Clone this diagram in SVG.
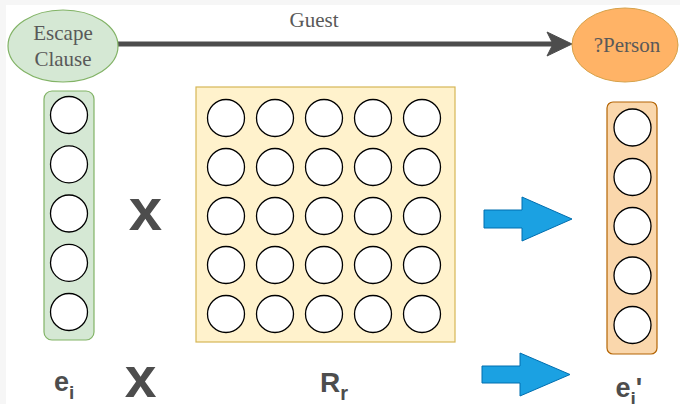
<svg xmlns="http://www.w3.org/2000/svg" width="680" height="404" viewBox="0 0 680 404">
<defs>
<style>
.serif{font-family:"Liberation Serif","Times New Roman",serif;fill:#595959;font-size:21px;text-anchor:middle}
.bold{font-family:"Liberation Sans",Arial,sans-serif;font-weight:bold;fill:#4d4d4d}
.cell{fill:#ffffff;stroke:#000000;stroke-width:1.3}
.blue{fill:#1ba1e2;stroke:#006eaf;stroke-width:1}
</style>
<circle id="c" r="18.5" class="cell"/>
</defs>
<rect x="0" y="0" width="680" height="404" fill="#f6f6f6"/>
<rect x="6" y="5" width="674" height="399" fill="#ffffff"/>

<g id="connectors">
<line x1="118" y1="44" x2="556" y2="44" stroke="#4d4d4d" stroke-width="5"/>
<polygon points="572,44 547,32 553,44 547,56" fill="#4d4d4d" stroke="#4d4d4d" stroke-width="1"/>
<text class="serif" x="314" y="27" font-size="20">Guest</text>
<polygon class="blue" points="484,210 522,210 522,197 572,219 522,241 522,228 484,228"/>
<polygon class="blue" points="482,366 520,366 520,353 570,374.5 520,396 520,383 482,383"/>
</g>

<g id="escape-clause">
<ellipse cx="63" cy="46" rx="55" ry="36" fill="#d5e8d4" stroke="#82b366" stroke-width="1.2"/>
<text class="serif" x="63" y="39.5">Escape</text>
<text class="serif" x="63" y="65.5">Clause</text>
</g>

<g id="person">
<ellipse cx="625" cy="45" rx="53" ry="37" fill="#ffb366" stroke="#d6a24a" stroke-width="1"/>
<text class="serif" x="627" y="52">?Person</text>
</g>

<g id="ei-vector">
<rect x="44" y="91" width="50" height="249" rx="8" fill="#d5e8d4" stroke="#82b366" stroke-width="1.2"/>
<use href="#c" x="69" y="115"/>
<use href="#c" x="69" y="164.3"/>
<use href="#c" x="69" y="213.5"/>
<use href="#c" x="69" y="262.8"/>
<use href="#c" x="69" y="312"/>
</g>

<g id="matrix">
<rect x="196" y="87" width="259" height="255" fill="#fff2cc" stroke="#d6b656" stroke-width="1.2"/>
<g>
<use href="#c" x="226" y="118"/><use href="#c" x="275" y="118"/><use href="#c" x="324" y="118"/><use href="#c" x="373" y="118"/><use href="#c" x="422" y="118"/>
<use href="#c" x="226" y="167"/><use href="#c" x="275" y="167"/><use href="#c" x="324" y="167"/><use href="#c" x="373" y="167"/><use href="#c" x="422" y="167"/>
<use href="#c" x="226" y="216"/><use href="#c" x="275" y="216"/><use href="#c" x="324" y="216"/><use href="#c" x="373" y="216"/><use href="#c" x="422" y="216"/>
<use href="#c" x="226" y="265"/><use href="#c" x="275" y="265"/><use href="#c" x="324" y="265"/><use href="#c" x="373" y="265"/><use href="#c" x="422" y="265"/>
<use href="#c" x="226" y="314"/><use href="#c" x="275" y="314"/><use href="#c" x="324" y="314"/><use href="#c" x="373" y="314"/><use href="#c" x="422" y="314"/>
</g>
</g>

<g id="ej-vector">
<rect x="607" y="102" width="50" height="252" rx="6" fill="#fad7ac" stroke="#b46504" stroke-width="1.2"/>
<use href="#c" x="632.5" y="127.5"/>
<use href="#c" x="632.5" y="177"/>
<use href="#c" x="632.5" y="226"/>
<use href="#c" x="632.5" y="275.5"/>
<use href="#c" x="632.5" y="325"/>
</g>

<g id="labels">
<text class="bold" x="145.5" y="230" font-size="60" text-anchor="middle">x</text>
<text class="bold" x="140.5" y="396.5" font-size="57" text-anchor="middle">x</text>
<text class="bold" x="54" y="391" font-size="27">e<tspan font-size="19" dy="8">i</tspan></text>
<text class="bold" x="320" y="391.5" font-size="28">R<tspan font-size="20" dy="8">r</tspan></text>
<text class="bold" x="615.5" y="396.5" font-size="27">e<tspan font-size="19" dy="8">j</tspan><tspan dy="-8">'</tspan></text>
</g>
</svg>
